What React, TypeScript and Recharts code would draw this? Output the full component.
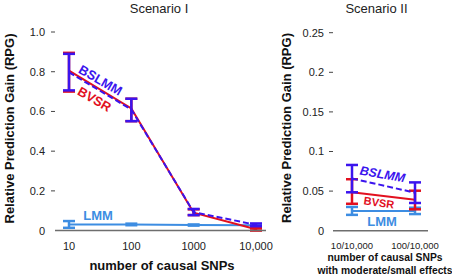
import React from "react";
import { LineChart, Line, XAxis, YAxis, ErrorBar } from "recharts";

// Scenario I: all causal SNPs
const snpCounts = ["10", "100", "1000", "10,000"];
const bvsr1 = [0.805, 0.615, 0.09, 0.007];
const bvsr1Lo = [0.7, 0.551, 0.078, 0.0];
const bvsr1Hi = [0.895, 0.664, 0.107, 0.012];
const bslmm1 = [0.797, 0.61, 0.093, 0.029];
const bslmm1Lo = [0.706, 0.551, 0.078, 0.022];
const bslmm1Hi = [0.89, 0.664, 0.109, 0.036];
const lmm1 = [0.031, 0.031, 0.028, 0.027];
const lmm1Lo = [0.014, 0.027, 0.025, 0.024];
const lmm1Hi = [0.048, 0.035, 0.031, 0.03];
const ticks1 = [0, 0.2, 0.4, 0.6, 0.8, 1.0];
const tickText1 = ["0", "0.2", "0.4", "0.6", "0.8", "1.0"];

// Scenario II: moderate/small effects
const effectCounts = ["10/10,000", "100/10,000"];
const bvsr2 = [0.0485, 0.039];
const bvsr2Lo = [0.034, 0.027];
const bvsr2Hi = [0.065, 0.0505];
const bslmm2 = [0.066, 0.048];
const bslmm2Lo = [0.0485, 0.035];
const bslmm2Hi = [0.083, 0.061];
const lmm2 = [0.025, 0.025];
const lmm2Lo = [0.02, 0.021];
const lmm2Hi = [0.03, 0.029];
const ticks2 = [0, 0.05, 0.1, 0.15, 0.2, 0.25];
const tickText2 = ["0", "0.05", "0.1", "0.15", "0.2", "0.25"];

const BLUE = "#3b14ee";
const RED = "#e2101f";
const LIGHT = "#3d8de2";
const AXIS = "#6e6e6e";
const FONT = "'Liberation Sans', Arial, Helvetica, sans-serif";

const err = (v: number[], lo: number[], hi: number[], i: number) => [v[i] - lo[i], hi[i] - v[i]];

const data1 = snpCounts.map((name, i) => ({
  name,
  bvsr: bvsr1[i],
  bvsrErr: err(bvsr1, bvsr1Lo, bvsr1Hi, i),
  bslmm: bslmm1[i],
  bslmmErr: err(bslmm1, bslmm1Lo, bslmm1Hi, i),
  lmm: lmm1[i],
  lmmErr: err(lmm1, lmm1Lo, lmm1Hi, i),
}));

const data2 = effectCounts.map((name, i) => ({
  name,
  bvsr: bvsr2[i],
  bvsrErr: err(bvsr2, bvsr2Lo, bvsr2Hi, i),
  bslmm: bslmm2[i],
  bslmmErr: err(bslmm2, bslmm2Lo, bslmm2Hi, i),
  lmm: lmm2[i],
  lmmErr: err(lmm2, lmm2Lo, lmm2Hi, i),
}));

const makeYTick = (labels: string[], values: number[], gap: number) => (props: any) => {
  const { x, y, payload } = props;
  const idx = values.indexOf(payload.value);
  return (
    <g>
      {payload.value !== 0 && <line x1={x - 4} x2={x} y1={y} y2={y} stroke="#444" strokeWidth={1} />}
      <text x={x - gap} y={y} dy="0.36em" textAnchor="end" fontSize={11} fontFamily={FONT} fill="#222">
        {idx >= 0 ? labels[idx] : payload.value}
      </text>
    </g>
  );
};

const makeXTick = (size: number, dy: number) => (props: any) => {
  const { x, y, payload } = props;
  return (
    <text x={x} y={y + dy} textAnchor="middle" fontSize={size} fontFamily={FONT} fill="#222">
      {payload.value}
    </text>
  );
};

function Series() {
  return null;
}

export default function App() {
  const lines = (
    [
      <Line key="lmm" dataKey="lmm" stroke={LIGHT} strokeWidth={2} dot={false} activeDot={false} isAnimationActive={false}>
        <ErrorBar dataKey="lmmErr" direction="y" width={6} stroke={LIGHT} strokeWidth={2.5} />
      </Line>,
      <Line key="bvsr" dataKey="bvsr" stroke={RED} strokeWidth={2} dot={false} activeDot={false} isAnimationActive={false}>
        <ErrorBar dataKey="bvsrErr" direction="y" width={6} stroke={RED} strokeWidth={2.5} />
      </Line>,
      <Line key="bslmm" dataKey="bslmm" stroke={BLUE} strokeWidth={2} strokeDasharray="6 3" dot={false} activeDot={false} isAnimationActive={false}>
        <ErrorBar dataKey="bslmmErr" direction="y" width={6} stroke={BLUE} strokeWidth={2.5} />
      </Line>,
    ]
  );

  return (
    <div style={{ position: "absolute", left: 0, top: 0, width: 452, height: 280, background: "#fff" }}>
      <div style={{ position: "absolute", left: 0, top: 0 }}>
        <LineChart width={280} height={280} data={data1} margin={{ top: 32, right: 14, left: 0, bottom: 19.4 }}>
          <XAxis
            dataKey="name"
            height={30}
            padding={{ left: 14, right: 10 }}
            tickLine={false}
            tickSize={0}
            tickMargin={0}
            axisLine={{ stroke: AXIS, strokeWidth: 1.5 }}
            tick={makeXTick(11, 19)}
            interval={0}
          />
          <YAxis
            width={55}
            domain={[0, 1]}
            ticks={ticks1}
            axisLine={false}
            tickLine={false}
            tickSize={0}
            tickMargin={0}
            tick={makeYTick(tickText1, ticks1, 10)}
          />
          {lines}
        </LineChart>
      </div>
      <div style={{ position: "absolute", left: 280, top: 0 }}>
        <LineChart width={172} height={280} data={data2} margin={{ top: 32.7, right: 24, left: 0, bottom: 19.3 }}>
          <XAxis
            dataKey="name"
            height={30}
            padding={{ left: 19, right: 13 }}
            tickLine={false}
            tickSize={0}
            tickMargin={0}
            axisLine={{ stroke: AXIS, strokeWidth: 1.5 }}
            tick={makeXTick(9.5, 18.5)}
            interval={0}
          />
          <YAxis
            width={53}
            domain={[0, 0.25]}
            ticks={ticks2}
            axisLine={false}
            tickLine={false}
            tickSize={0}
            tickMargin={0}
            tick={makeYTick(tickText2, ticks2, 9)}
          />
          {lines}
        </LineChart>
      </div>
      <svg width={452} height={280} style={{ position: "absolute", left: 0, top: 0, pointerEvents: "none" }} fontFamily={FONT}>
        <text x={159} y={12.5} textAnchor="middle" fontSize={13} fill="#222">Scenario I</text>
        <text x={376.5} y={12.5} textAnchor="middle" fontSize={13} fill="#222">Scenario II</text>
        <text transform="translate(9,128.5) rotate(-90)" textAnchor="middle" dy="0.36em" fontSize={13} fontWeight="bold" fill="#111">
          Relative Prediction Gain (RPG)
        </text>
        <text transform="translate(286,128) rotate(-90)" textAnchor="middle" dy="0.36em" fontSize={13} fontWeight="bold" fill="#111">
          Relative Prediction Gain (RPG)
        </text>
        <text x={162} y={270} textAnchor="middle" fontSize={13} fontWeight="bold" fill="#111">number of causal SNPs</text>
        <text x={385} y={261} textAnchor="middle" fontSize={10.3} fontWeight="bold" fill="#111">number of causal SNPs</text>
        <text x={385} y={273.5} textAnchor="middle" fontSize={10.3} fontWeight="bold" fill="#111">with moderate/small effects</text>

        <text transform="translate(100.5,80) rotate(30)" textAnchor="middle" dy="0.36em" fontSize={13} fontWeight="bold" fill={BLUE}>BSLMM</text>
        <text transform="translate(94.5,99) rotate(30)" textAnchor="middle" dy="0.36em" fontSize={13} fontWeight="bold" fill={RED}>BVSR</text>
        <text x={98} y={215} textAnchor="middle" dy="0.36em" fontSize={13} fontWeight="bold" fill={LIGHT}>LMM</text>

        <text transform="translate(382.5,174) rotate(10)" textAnchor="middle" dy="0.36em" fontSize={12.5} fontWeight="bold" fontStyle="italic" fill={BLUE}>BSLMM</text>
        <text transform="translate(379,202.5) rotate(8)" textAnchor="middle" dy="0.36em" fontSize={11} fontWeight="bold" fill={RED}>BVSR</text>
        <text x={382} y={221} textAnchor="middle" dy="0.36em" fontSize={13} fontWeight="bold" fill={LIGHT}>LMM</text>
      </svg>
    </div>
  );
}
